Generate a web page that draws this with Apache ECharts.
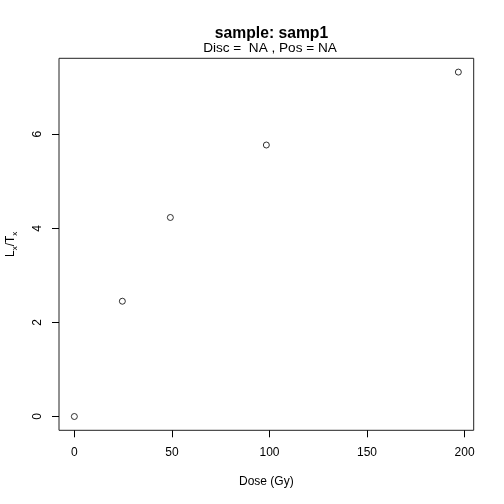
<!DOCTYPE html>
<html><head><meta charset="utf-8">
<script src="https://cdn.jsdelivr.net/npm/echarts@6/dist/echarts.min.js"></script>
<style>html,body{margin:0;padding:0;background:#fff}#c{width:504px;height:504px}</style>
</head><body><div id="c"></div>
<script>
const doses = [0, 24.6, 49.2, 98.4, 196.8];
const lxtx = [0, 2.45, 4.23, 5.77, 7.32];
const xTicks = [0, 50, 100, 150, 200];
const yTicks = [0, 2, 4, 6];
const titleText = 'sample: samp1';
const subText = 'Disc =  NA , Pos = NA';
const xName = 'Dose (Gy)';

const font = 'Liberation Sans, Arial, Helvetica, sans-serif';
const chart = echarts.init(document.getElementById('c'), null, {renderer: 'canvas'});
chart.setOption({
  animation: false,
  backgroundColor: '#fff',
  textStyle: {fontFamily: font, color: '#000'},
  graphic: [
    {type: 'text', x: 271.5, y: 33.5, style: {text: titleText, font: 'bold 15.7px ' + font, fill: '#000', align: 'center', verticalAlign: 'middle'}},
    {type: 'text', x: 270, y: 48, style: {text: subText, font: '13.6px ' + font, fill: '#000', align: 'center', verticalAlign: 'middle'}}
  ],
  grid: {left: 59, right: 30.3, top: 58.3, bottom: 73.7, show: true, borderColor: '#222', borderWidth: 1, backgroundColor: 'transparent', containLabel: false, outerBoundsMode: 'none'},
  xAxis: {
    type: 'value', min: -7.87, max: 204.67,
    name: xName, nameLocation: 'middle', nameGap: 45,
    nameTextStyle: {fontSize: 12, color: '#000', fontFamily: font},
    splitLine: {show: false},
    axisLine: {show: false, onZero: false},
    axisTick: {show: true, inside: false, length: 7, lineStyle: {color: '#000'}, customValues: xTicks},
    axisLabel: {fontSize: 12, color: '#000', margin: 16.5, customValues: xTicks, showMinLabel: true, showMaxLabel: true}
  },
  yAxis: {
    type: 'value', min: -0.293, max: 7.613,
    name: '{m|L}{s|x}{m|/T}{s|x}', nameLocation: 'middle', nameGap: 42, nameRotate: 90,
    nameTextStyle: {fontFamily: font, rich: {
      m: {fontSize: 12, color: '#000', fontFamily: font},
      s: {fontSize: 8, color: '#000', fontFamily: font, verticalAlign: 'bottom', padding: [0, 0, -2, 0]}
    }},
    splitLine: {show: false},
    axisLine: {show: false, onZero: false},
    axisTick: {show: true, inside: false, length: 7, lineStyle: {color: '#000'}, customValues: yTicks},
    axisLabel: {fontSize: 12, color: '#000', margin: 15.5, rotate: 90, customValues: yTicks, showMinLabel: true, showMaxLabel: true}
  },
  series: [{
    type: 'scatter',
    data: doses.map((d, i) => [d, lxtx[i]]),
    symbol: 'circle', symbolSize: 6,
    itemStyle: {color: 'rgba(0,0,0,0)', borderColor: '#000', borderWidth: 1}
  }]
});
</script></body></html>
